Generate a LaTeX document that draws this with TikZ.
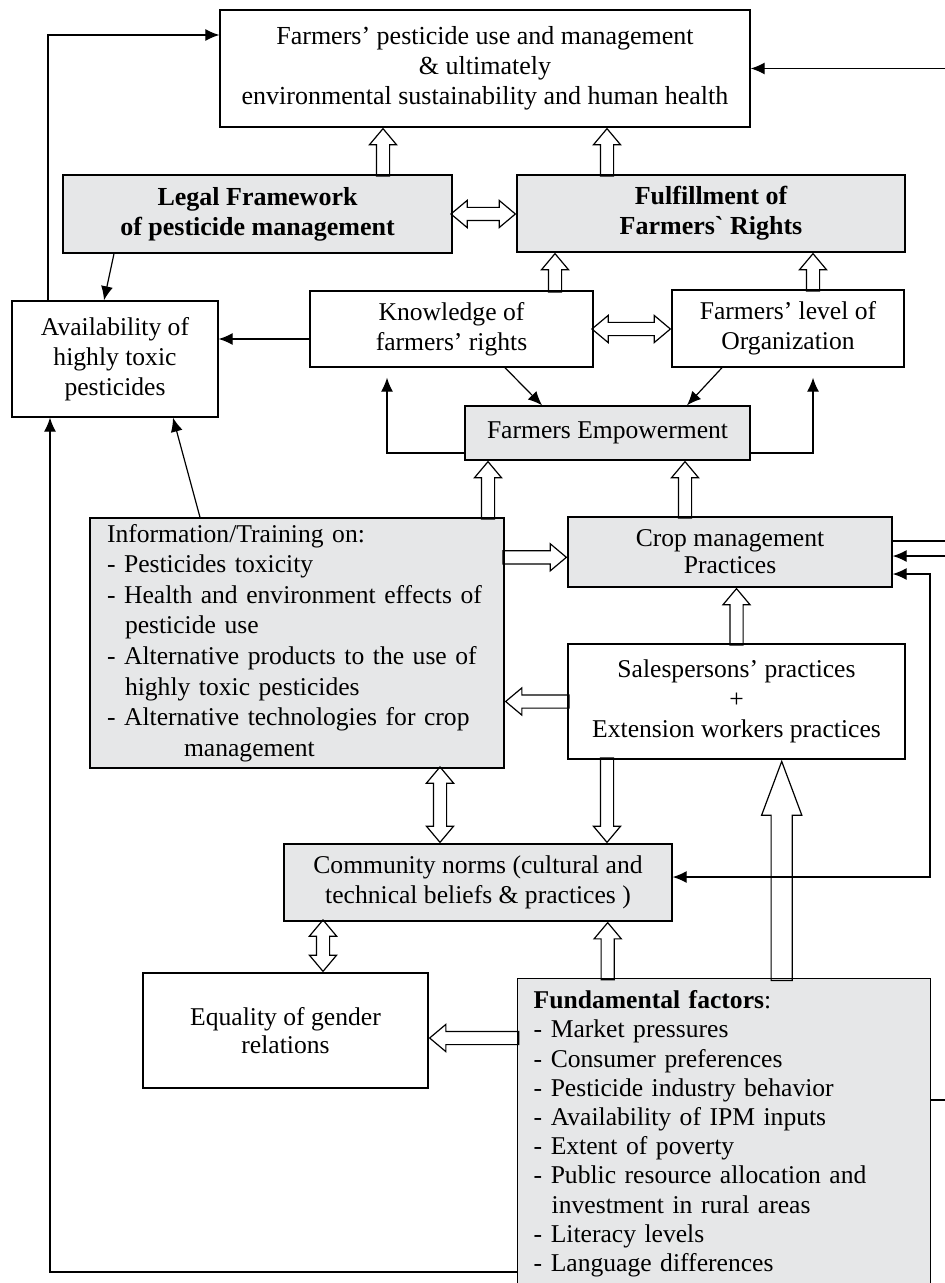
\documentclass[tikz,border=0pt]{standalone}
\usepackage{fontspec}
\setmainfont{Liberation Serif}
\usepackage{tikz}
\usetikzlibrary{arrows.meta, shapes.arrows, calc}

\definecolor{boxgray}{RGB}{230,231,232}

\tikzset{
  box/.style={draw, line width=0.7pt, align=center, inner sep=0pt},
  greybox/.style={box, fill=boxgray},
  link/.style={line width=0.6pt, -{Latex[length=7pt,width=6pt]}},
  linkboth/.style={line width=0.6pt, {Latex[length=7pt,width=6pt]}-{Latex[length=7pt,width=6pt]}},
  plain/.style={line width=0.6pt},
  hollow/.style={single arrow, draw, line width=0.6pt, inner sep=0pt, inner ysep=3pt,
    single arrow head extend=3.5pt, single arrow tip angle=80, anchor=tip},
  hollowboth/.style={double arrow, draw, line width=0.6pt, inner sep=0pt, inner ysep=3pt,
    double arrow head extend=3.5pt, double arrow tip angle=80, anchor=tip 1},
  bighollow/.style={hollow, inner ysep=5pt, single arrow head extend=4.75pt, single arrow tip angle=41},
}

% hollow block arrow, vertical / horizontal, from a point to the side of a node
\newcommand{\vhollow}[3][hollow]{%
  \path let \p1=(#2), \p3=(#3), \p2=(\x1,\y3),
    \n1={veclen(\x2-\x1,\y2-\y1)+0.4pt}, \n2={atan2(\y2-\y1,\x2-\x1)} in
    (\p2) node[#1, minimum height=\n1, rotate=\n2] {};}
\newcommand{\hhollow}[3][hollow]{%
  \path let \p1=(#2), \p3=(#3), \p2=(\x3,\y1),
    \n1={veclen(\x2-\x1,\y2-\y1)+0.4pt}, \n2={atan2(\y2-\y1,\x2-\x1)} in
    (\p2) node[#1, minimum height=\n1, rotate=\n2] {};}

\begin{document}
\begin{tikzpicture}[x=0.5pt, y=-0.5pt, font=\fontsize{12.8}{15}\selectfont]
 \useasboundingbox (0,0) rectangle (945,1283);
 \clip (0,0) rectangle (945,1283);
 \coordinate (edge) at (945,0);
 \coordinate (bus) at (930,700);
%
 \node[box, font=\fontsize{13}{15}\selectfont, minimum width=265pt, minimum height=58.5pt] (top) at (485,68.5)
   {Farmers' pesticide use and management\\ \& ultimately\\ environmental sustainability and human health};
 \node[greybox, font=\fontsize{13}{15}\selectfont\bfseries, minimum width=194.5pt, minimum height=39pt] (legal) at (257.5,214)
   {Legal Framework\\of pesticide management};
 \node[greybox, font=\fontsize{13}{15}\selectfont\bfseries, minimum width=194pt, minimum height=38.5pt] (rights) at (711,213.5)
   {Fulfillment of\\Farmers\textasciigrave{} Rights};
 \node[box, minimum width=103pt, minimum height=58pt] (avail) at (115,359) {Availability of\\highly toxic\\pesticides};
 \node[box, minimum width=141.5pt, minimum height=38pt] (know) at (451.5,329) {Knowledge of\\farmers' rights};
 \node[box, minimum width=116pt, minimum height=38.5pt] (org) at (788,328.5) {Farmers' level of\\Organization};
 \node[greybox, minimum width=142.5pt, minimum height=27pt] (empower) at (607.5,433) {Farmers Empowerment};
%
 \node[greybox, align=left, text width=190pt, inner xsep=8.5pt, minimum height=125pt,
   font=\fontsize{12.8}{15.3}\selectfont] (info) at (297,643)
   {Information/Training on:\\
    - Pesticides toxicity\\
    - Health and environment effects of\\
    \hspace*{9pt}pesticide use\\
    - Alternative products to the use of\\
    \hspace*{9pt}highly toxic pesticides\\
    - Alternative technologies for crop\\
    \hspace*{38.5pt}management};
 \node[greybox, minimum width=162pt, minimum height=35pt, font=\fontsize{12.8}{13.5}\selectfont] (crop) at (730,552)
   {Crop management\\Practices};
 \node[box, minimum width=168.5pt, minimum height=57.5pt] (sales) at (736.5,701.5)
   {Salespersons' practices\\+\\Extension workers practices};
 \node[greybox, minimum width=194pt, minimum height=38.5pt] (norms) at (478,882.5)
   {Community norms (cultural and\\technical beliefs \& practices )};
 \node[box, minimum width=142.5pt, minimum height=57.5pt, font=\fontsize{12.8}{14}\selectfont] (gender) at (285.5,1030.5)
   {Equality of gender\\relations};
 \node[greybox, anchor=north west, align=left, text width=190.5pt, inner xsep=8pt, inner ysep=6pt,
   font=\fontsize{12.8}{14.6}\selectfont] (fund) at (517,978)
   {\textbf{Fundamental factors}:\\
    - Market pressures\\
    - Consumer preferences\\
    - Pesticide industry behavior\\
    - Availability of IPM inputs\\
    - Extent of poverty\\
    - Public resource allocation and\\
    \hspace*{9pt}investment in rural areas\\
    - Literacy levels\\
    - Language differences\rule[-14pt]{0pt}{0pt}};
%
 \vhollow{[xshift=62.75pt]legal.north}{top.south}
 \vhollow{[xshift=-52pt]rights.north}{top.south}
 \hhollow[hollowboth]{legal.east}{rights.west}
 \vhollow{[xshift=51.75pt]know.north}{rights.south}
 \vhollow{[xshift=12.5pt]org.north}{rights.south}
 \hhollow[hollowboth]{know.east}{org.west}
 \vhollow{[xshift=95.5pt]info.north}{empower.south}
 \vhollow{[xshift=-22.5pt]crop.north}{empower.south}
 \hhollow{[yshift=-20pt]info.north east}{crop.west}
 \vhollow{sales.north}{crop.south}
 \hhollow{sales.west}{info.east}
 \vhollow[hollowboth]{[xshift=71.5pt]info.south}{norms.north}
 \vhollow{[xshift=-64.75pt]sales.south}{norms.north}
 \vhollow[bighollow]{[xshift=28.75pt]fund.north}{sales.south}
 \vhollow[hollowboth]{[xshift=-77.5pt]norms.south}{gender.north}
 \vhollow{[xshift=-58.25pt]fund.north}{norms.south}
 \hhollow{[yshift=-30pt]fund.north west}{gender.east}
%
 \coordinate (k1) at ([yshift=-5pt]know.west);
 \coordinate (c1) at ([yshift=5.5pt]crop.east);
 \coordinate (c2) at ([yshift=-2pt]crop.east);
 \coordinate (f1) at ([yshift=-61pt]fund.north east);
 \draw[link] ([xshift=-33.5pt]avail.north) |- ([yshift=16.75pt]top.west);
 \draw[link] (top.east -| edge) -- (top.east);
 \draw[link] ([xshift=-71.75pt]legal.south) -- ([xshift=-5.5pt]avail.north);
 \draw[link] (k1) -- (k1 -| avail.east);
 \draw[link] ([xshift=26.75pt]know.south) -- ([xshift=-32.75pt]empower.north);
 \draw[link] ([xshift=-33pt]org.south) -- ([xshift=39.75pt]empower.north);
 \draw[link, shorten >=5pt] ([yshift=-10pt]empower.west) -| ([xshift=-32.25pt]know.south);
 \draw[link, shorten >=5pt] ([yshift=-10pt]empower.east) -| ([xshift=12.5pt]org.south);
 \draw[link] ([xshift=-48.5pt]info.north) -- ([xshift=29pt]avail.south);
 \draw[link] ([yshift=-147pt]fund.north west) -| ([xshift=-32.5pt]avail.south);
 \draw[plain] (c1) -- (c1 -| edge);
 \draw[link] (c2 -| edge) -- (c2);
 \draw[linkboth] ([yshift=-11pt]crop.east) -| (bus) |- ([yshift=2.75pt]norms.east);
 \draw[plain] (f1) -- (f1 -| edge);
\end{tikzpicture}
\end{document}
